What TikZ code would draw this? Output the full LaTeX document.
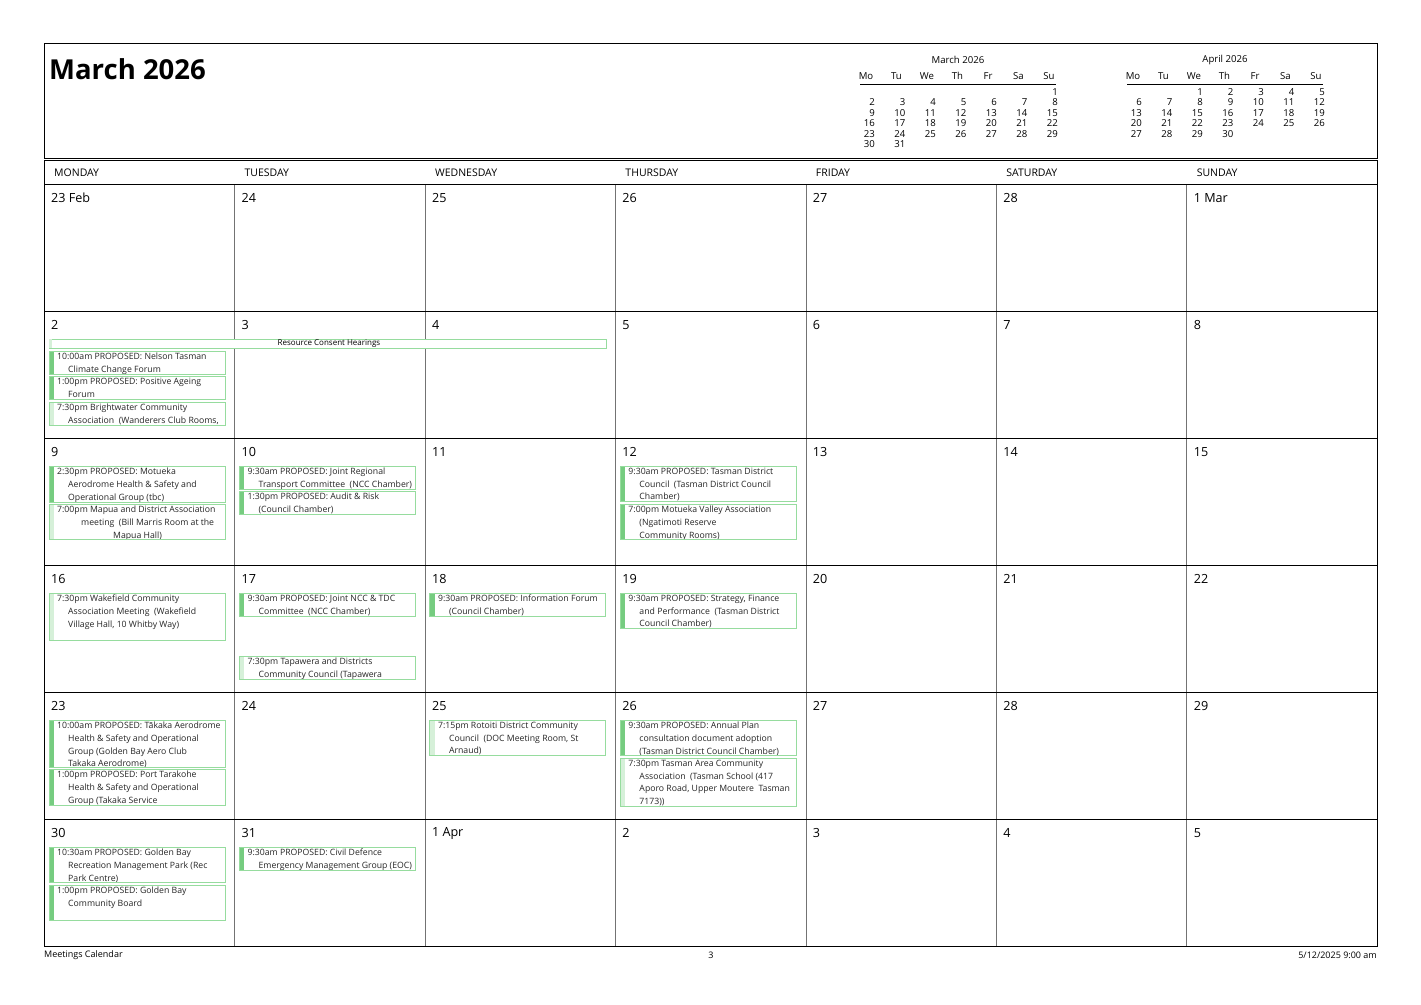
\documentclass[tikz,border=0pt]{standalone}
\usepackage{fontspec}
\setmainfont{Open Sans}
\definecolor{evgreen}{RGB}{118,204,128}
\definecolor{evline}{RGB}{150,220,158}
\tikzset{
  evtext/.style={anchor=north west,inner sep=0pt,align=left,text=black!85,
    font=\fontsize{8.7}{12.6}\selectfont},
  evframe/.style={draw=evline,line width=0.8pt},
  solidbar/.style={fill=evgreen},
  tentbar/.style={fill=evgreen!30!white},
  daynum/.style={anchor=west,inner sep=0pt,font=\fontsize{12.6}{14}\selectfont},
  minical/.style={inner sep=0pt,font=\fontsize{9.6}{11}\selectfont},
}
% col, top, bottom, bar style, text
\newcommand\ev[5]{%
  \pgfmathsetmacro\evl{44+190.43*#1+5}
  \begin{scope}
    \clip (\evl,#2) rectangle (\evl+176,#3);
    \fill[#4] (\evl,#2) rectangle (\evl+5,#3);
    \node[evtext] at (\evl+8,#2+2) {#5};
  \end{scope}
  \draw[evframe] (\evl,#2) rectangle (\evl+176,#3);}
\newcommand\nl{\\\hspace*{11pt}}
\begin{document}
\begin{tikzpicture}[x=1pt,y=-1pt]
  \useasboundingbox[fill=white] (0,0) rectangle (1421,1004);

  % header
  \draw (44,43) rectangle (1377,158);
  \node[anchor=west,inner sep=0pt,font=\bfseries\fontsize{27.5}{30}\selectfont] (title) at (49,69) {March 2026};

  % mini calendars
  \foreach \mx/\mname/\first/\last in {866/March 2026/7/31, 1133/April 2026/3/30}{
    \node[minical] at (\mx+92,60) {\mname};
    \foreach \d [count=\i from 0] in {Mo,Tu,We,Th,Fr,Sa,Su}
      \node[minical] at (\mx+30.5*\i,76) {\d};
    \draw (\mx-6,84) -- (\mx+190,84);
    \foreach \n in {1,...,\last}{
      \pgfmathtruncatemacro\pos{\n+\first-2}
      \pgfmathtruncatemacro\c{mod(\pos,7)}
      \pgfmathtruncatemacro\r{div(\pos,7)}
      \node[minical,anchor=east] at (\mx+30.5*\c+9,92+10.5*\r) {\n};
    }
  }

  % weekday header
  \draw (44,160) rectangle (1377,184);
  \foreach \d [count=\i from 0] in {MONDAY,TUESDAY,WEDNESDAY,THURSDAY,FRIDAY,SATURDAY,SUNDAY}
    \node[anchor=west,inner sep=0pt,font=\fontsize{10.5}{12}\selectfont] (wd\i) at (44+190.43*\i+10,173) {\d};

  % grid
  \foreach \i in {1,...,6}
    \draw[black!55] (44+190.43*\i,184) -- (44+190.43*\i,946);
  \foreach \j in {1,...,5}
    \draw (44,184+127*\j) -- (1377,184+127*\j);
  \draw (44,184) rectangle (1377,946);

  % day numbers
  \foreach \t [count=\k from 0] in {23 Feb,24,25,26,27,28,1 Mar,2,3,4,5,6,7,8,9,10,11,12,13,14,15,16,17,18,19,20,21,22,23,24,25,26,27,28,29,30,31,1 Apr,2,3,4,5}{
    \pgfmathtruncatemacro\c{mod(\k,7)}
    \pgfmathtruncatemacro\r{div(\k,7)}
    \node[daynum] (day\k) at (44+190.43*\c+7,198+127*\r) {\t};
  }

  % all-day event
  \draw[evframe,fill=white] (49,339) rectangle (606,348);
  \fill[tentbar] (49,339) rectangle (52,348);
  \node[inner sep=0pt,font=\fontsize{8}{9}\selectfont] (rch) at (329,343.5) {Resource Consent Hearings};

  % week of 2 March
  \ev{0}{351}{374}{solidbar}{10:00am PROPOSED: Nelson Tasman\nl Climate Change Forum}
  \ev{0}{376}{399}{solidbar}{1:00pm PROPOSED: Positive Ageing\nl Forum}
  \ev{0}{402}{425}{tentbar}{7:30pm Brightwater Community\nl Association\ \ (Wanderers Club Rooms,}

  % week of 9 March
  \ev{0}{466}{502}{solidbar}{2:30pm PROPOSED: Motueka\nl Aerodrome Health \& Safety and\nl Operational Group (tbc)}
  \ev{0}{504}{539}{tentbar}{7:00pm Mapua and District Association\\\hspace*{24pt}meeting\ \ (Bill Marris Room at the\\\hspace*{56pt}Mapua Hall)}
  \ev{1}{466}{489}{solidbar}{9:30am PROPOSED: Joint Regional\nl Transport Committee\ \ (NCC Chamber)}
  \ev{1}{491}{514}{solidbar}{1:30pm PROPOSED: Audit \& Risk\nl (Council Chamber)}
  \ev{3}{466}{501}{solidbar}{9:30am PROPOSED: Tasman District\nl Council\ \ (Tasman District Council\nl Chamber)}
  \ev{3}{504}{539}{solidbar}{7:00pm Motueka Valley Association\nl (Ngatimoti Reserve\nl Community Rooms)}

  % week of 16 March
  \ev{0}{593}{640}{tentbar}{7:30pm Wakefield Community\nl Association Meeting\ \ (Wakefield\nl Village Hall, 10 Whitby Way)}
  \ev{1}{593}{616}{solidbar}{9:30am PROPOSED: Joint NCC \& TDC\nl Committee\ \ (NCC Chamber)}
  \ev{1}{656}{679}{tentbar}{7:30pm Tapawera and Districts\nl Community Council (Tapawera}
  \ev{2}{593}{616}{solidbar}{9:30am PROPOSED: Information Forum\nl (Council Chamber)}
  \ev{3}{593}{628}{solidbar}{9:30am PROPOSED: Strategy, Finance\nl and Performance\ \ (Tasman District\nl Council Chamber)}

  % week of 23 March
  \ev{0}{720}{767}{solidbar}{10:00am PROPOSED: Tākaka Aerodrome\nl Health \& Safety and Operational\nl Group (Golden Bay Aero Club\nl Takaka Aerodrome)}
  \ev{0}{769}{805}{solidbar}{1:00pm PROPOSED: Port Tarakohe\nl Health \& Safety and Operational\nl Group (Takaka Service}
  \ev{2}{720}{755}{tentbar}{7:15pm Rotoiti District Community\nl Council\ \ (DOC Meeting Room, St\nl Arnaud)}
  \ev{3}{720}{755}{solidbar}{9:30am PROPOSED: Annual Plan\nl consultation document adoption\nl (Tasman District Council Chamber)}
  \ev{3}{758}{806}{tentbar}{7:30pm Tasman Area Community\nl Association\ \ (Tasman School (417\nl Aporo Road, Upper Moutere\ \ Tasman\nl 7173))}

  % week of 30 March
  \ev{0}{847}{882}{solidbar}{10:30am PROPOSED: Golden Bay\nl Recreation Management Park (Rec\nl Park Centre)}
  \ev{0}{885}{920}{solidbar}{1:00pm PROPOSED: Golden Bay\nl Community Board}
  \ev{1}{847}{870}{solidbar}{9:30am PROPOSED: Civil Defence\nl Emergency Management Group (EOC)}

  % footer
  \node[anchor=west,inner sep=0pt,font=\fontsize{9}{10}\selectfont] (ftl) at (44,955) {Meetings Calendar};
  \node[inner sep=0pt,font=\fontsize{9}{10}\selectfont] (ftc) at (711,955) {3};
  \node[anchor=east,inner sep=0pt,font=\fontsize{9}{10}\selectfont] (ftr) at (1377,955) {5/12/2025 9:00 am};
\end{tikzpicture}
\end{document}
